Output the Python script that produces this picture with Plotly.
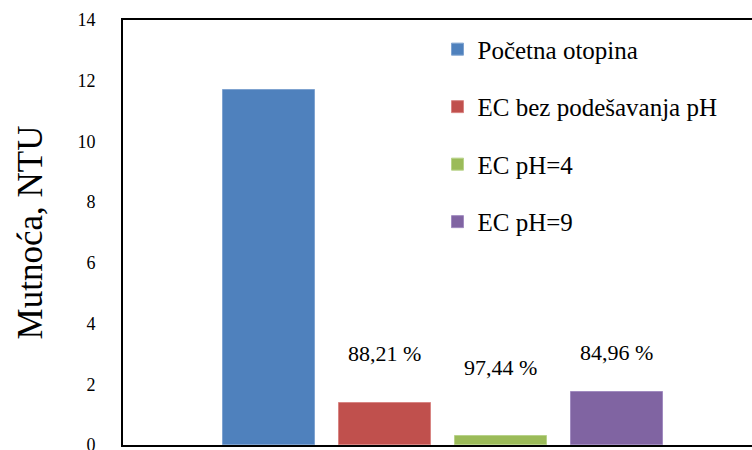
import plotly.graph_objects as go

series = ["Početna otopina", "EC bez podešavanja pH", "EC pH=4", "EC pH=9"]
values = [11.7, 1.38, 0.30, 1.76]
colors = ["#4F81BD", "#C0504D", "#9BBB59", "#8064A2"]
edge_colors = ["#7FA3D0", "#D88583", "#B8D38A", "#A18BC0"]
pct_labels = ["", "88,21 %", "97,44 %", "84,96 %"]
label_y = [None, 3.03, 2.54, 3.06]
y_ticks = [0, 2, 4, 6, 8, 10, 12, 14]

FONT = "Liberation Serif, serif"

fig = go.Figure()
for i, (name, v) in enumerate(zip(series, values)):
    fig.add_trace(go.Bar(
        x=[i], y=[v], name=name, width=0.79,
        marker=dict(color=colors[i], line=dict(color=edge_colors[i], width=1)),
        legendgroup=name, hoverinfo="y",
    ))

for i, (t, ly) in enumerate(zip(pct_labels, label_y)):
    if t:
        fig.add_annotation(x=i, y=ly, xref="x", yref="y", text=t, showarrow=False,
                           yanchor="middle", xanchor="center",
                           font=dict(family=FONT, size=22, color="#000"))

fig.update_layout(
    width=752, height=450,
    margin=dict(l=123, r=0, t=20, b=5, autoexpand=False),
    paper_bgcolor="white", plot_bgcolor="white",
    font=dict(family=FONT, color="#000"),
    showlegend=True,
    legend=dict(x=0.5, y=0.985, xanchor="left", yanchor="top",
                font=dict(family=FONT, size=25, color="#000"),
                tracegroupgap=22, bgcolor="rgba(0,0,0,0)"),
    bargap=0,
)
fig.update_xaxes(range=[-1.2586, 4.164], showticklabels=False, ticks="",
                 showgrid=False, zeroline=False, showline=True, mirror=True,
                 linecolor="#000", linewidth=2)
fig.update_yaxes(range=[0, 14], tickvals=y_ticks, showgrid=False, zeroline=False,
                 showline=True, linecolor="#000", linewidth=2, ticks="",
                 ticklabelstandoff=22, automargin=False, ticklabeloverflow="allow",
                 tickfont=dict(family=FONT, size=18, color="#000"),
                 title=dict(text="Mutnoća, NTU", standoff=24,
                            font=dict(family=FONT, size=35, color="#000")))

fig.write_html("out.html", config={"displayModeBar": False},
               post_script="document.body.style.margin='0px';document.body.style.overflow='hidden';")
